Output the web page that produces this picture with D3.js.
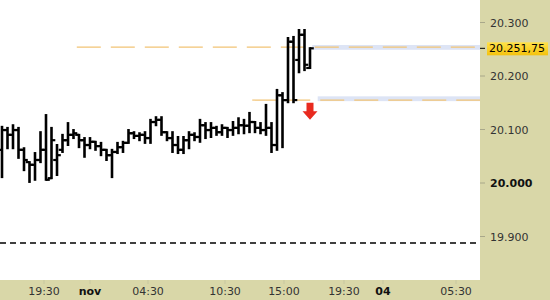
<!DOCTYPE html>
<html>
<head>
<meta charset="utf-8">
<script src="https://cdn.jsdelivr.net/npm/d3@7.9.0/dist/d3.min.js"></script>
<style>
  body { margin: 0; background: #fff; }
  svg { display: block; font-family: "DejaVu Sans", Verdana, sans-serif; }
</style>
</head>
<body>
<svg id="chart" width="550" height="300"></svg>
<script>
// OHLC bars, 30 minute intervals
const opens  = [20062,20099,20090,20099,20062,20039,20034,20043,20062,20009,20043,20062,20080,20090,20090,20080,20071,20077,20069,20062,20052,20058,20067,20075,20093,20088,20090,20084,20114,20118,20095,20084,20071,20062,20080,20090,20086,20108,20099,20103,20095,20103,20099,20103,20108,20107,20114,20103,20099,20103,20071,20164,20155,20264,20230,20277,20215];
const highs  = [20105,20103,20108,20103,20065,20039,20056,20095,20127,20103,20071,20090,20112,20099,20090,20084,20084,20077,20075,20062,20062,20075,20077,20099,20095,20093,20095,20118,20123,20123,20095,20095,20086,20086,20095,20093,20118,20112,20112,20105,20108,20103,20114,20121,20118,20131,20114,20112,20146,20112,20174,20168,20271,20273,20286,20286,20252];
const lows   = [20011,20065,20065,20047,20024,20002,20006,20039,20006,20009,20015,20058,20071,20084,20067,20049,20065,20062,20052,20043,20011,20056,20058,20075,20084,20080,20075,20075,20108,20090,20080,20058,20056,20056,20065,20080,20077,20084,20086,20090,20090,20086,20090,20093,20093,20095,20095,20093,20090,20058,20062,20067,20151,20151,20207,20211,20215];
const closes = [20099,20090,20099,20062,20043,20034,20043,20062,20006,20080,20052,20080,20090,20093,20080,20071,20077,20069,20062,20052,20058,20067,20075,20093,20088,20090,20084,20114,20118,20095,20084,20071,20062,20080,20090,20086,20108,20099,20103,20095,20103,20099,20103,20108,20107,20114,20103,20099,20103,20071,20164,20155,20264,20155,20277,20221,20251.75];

const lastPrice = 20251.75;
const yTicks = [20300, 20200, 20100, 20000, 19900];
const xTickPos = [7.64, 16, 26.55, 40.55, 51.27, 62.18, 69.27, 82.55];
const xTickLabels = ["19:30", "nov", "04:30", "10:30", "15:00", "19:30", "04", "05:30"];
const xTickBold = [false, true, false, false, false, false, true, false];

// levels: resistance / support zones and a low line
const levelUpper = 20254, levelUpperStart = 13.6;
const levelLower = 20155, levelLowerStart = 45.5;
const zoneUpper = [20249, 20258], zoneUpperStart = 56.4;
const zoneLower = [20153, 20162], zoneLowerStart = 57.4;
const levelLow = 19888;
const arrowAt = 56, arrowTop = 20150, arrowBottom = 20118;

const W = 550, H = 300, plotW = 480, plotH = 280;
const svg = d3.select("#chart");

const bars = opens.map((o, i) => ({ i, o, h: highs[i], l: lows[i], c: closes[i] }));

const x = d3.scaleLinear().domain([0, 56]).range([2, 310]);
const y = d3.scaleLinear().domain([20000, 20300]).range([183, 22.5]);

// bands
svg.append("rect").attr("x", 0).attr("y", 0).attr("width", W).attr("height", H).attr("fill", "#d9d7a8");
svg.append("rect").attr("x", 0).attr("y", 0).attr("width", plotW).attr("height", plotH).attr("fill", "#fff");

// zones
[[zoneUpper, zoneUpperStart], [zoneLower, zoneLowerStart]].forEach(([z, s]) => {
  svg.append("rect")
    .attr("x", x(s)).attr("y", y(z[1]))
    .attr("width", plotW - x(s)).attr("height", y(z[0]) - y(z[1]))
    .attr("fill", "#dde4f5");
});

// level lines
[[levelUpper, levelUpperStart], [levelLower, levelLowerStart]].forEach(([v, s]) => {
  svg.append("line")
    .attr("x1", x(s)).attr("x2", plotW)
    .attr("y1", y(v)).attr("y2", y(v))
    .attr("stroke", "#f2c375").attr("stroke-width", 1.2)
    .attr("stroke-dasharray", "24,10");
});

svg.append("line")
  .attr("x1", 0).attr("x2", plotW)
  .attr("y1", y(levelLow)).attr("y2", y(levelLow))
  .attr("stroke", "#000").attr("stroke-width", 1.5)
  .attr("stroke-dasharray", "6,4");

// OHLC
const g = svg.append("g").attr("stroke", "#000");
g.selectAll(".hl").data(bars).enter().append("line")
  .attr("x1", d => x(d.i)).attr("x2", d => x(d.i))
  .attr("y1", d => y(d.h) - 1).attr("y2", d => y(d.l) + 1)
  .attr("stroke-width", 2.6);
g.selectAll(".op").data(bars).enter().append("line")
  .attr("x1", d => x(d.i) - 3.8).attr("x2", d => x(d.i))
  .attr("y1", d => y(d.o)).attr("y2", d => y(d.o))
  .attr("stroke-width", 2.2);
g.selectAll(".cl").data(bars).enter().append("line")
  .attr("x1", d => x(d.i)).attr("x2", d => x(d.i) + 3.8)
  .attr("y1", d => y(d.c)).attr("y2", d => y(d.c))
  .attr("stroke-width", 2.2);

// red down arrow
const ax = x(arrowAt), at = y(arrowTop), ab = y(arrowBottom);
const headY = at + (ab - at) * 0.5;
svg.append("path")
  .attr("d", `M${ax - 3.5},${at} H${ax + 3.5} V${headY} H${ax + 7.5} L${ax},${ab} L${ax - 7.5},${headY} H${ax - 3.5} Z`)
  .attr("fill", "#e82a1f");

// y axis
const ya = svg.append("g");
yTicks.forEach(v => {
  ya.append("line").attr("x1", plotW).attr("x2", plotW + 5)
    .attr("y1", y(v)).attr("y2", y(v)).attr("stroke", "#a9a88a");
  ya.append("text").attr("x", 490).attr("y", y(v) + 4)
    .attr("font-size", 11).attr("fill", v === 20000 ? "#111" : "#333")
    .attr("font-weight", v === 20000 ? "bold" : "normal")
    .text(d3.format(".3f")(v / 1000));
});

// last price marker
const grad = svg.append("defs").append("linearGradient").attr("id", "gold")
  .attr("x1", 0).attr("x2", 0).attr("y1", 0).attr("y2", 1);
grad.append("stop").attr("offset", 0).attr("stop-color", "#ffe24a");
grad.append("stop").attr("offset", 1).attr("stop-color", "#f4c20d");
svg.append("rect").attr("x", 487).attr("y", y(lastPrice) - 6)
  .attr("width", 61).attr("height", 13).attr("fill", "url(#gold)");
svg.append("line").attr("x1", plotW).attr("x2", plotW + 5)
  .attr("y1", y(lastPrice)).attr("y2", y(lastPrice)).attr("stroke", "#000");
svg.append("text").attr("x", 489).attr("y", y(lastPrice) + 4)
  .attr("font-size", 11).attr("fill", "#000")
  .text("20.251,75");

// x axis
const xa = svg.append("g");
xTickPos.forEach((p, k) => {
  xa.append("line").attr("x1", x(p)).attr("x2", x(p))
    .attr("y1", plotH).attr("y2", plotH + 4).attr("stroke", "#c8c7a0");
  xa.append("text").attr("x", x(p)).attr("y", 295)
    .attr("text-anchor", "middle").attr("font-size", 11)
    .attr("font-weight", xTickBold[k] ? "bold" : "normal")
    .attr("fill", xTickBold[k] ? "#111" : "#333")
    .text(xTickLabels[k]);
});
</script>
</body>
</html>
